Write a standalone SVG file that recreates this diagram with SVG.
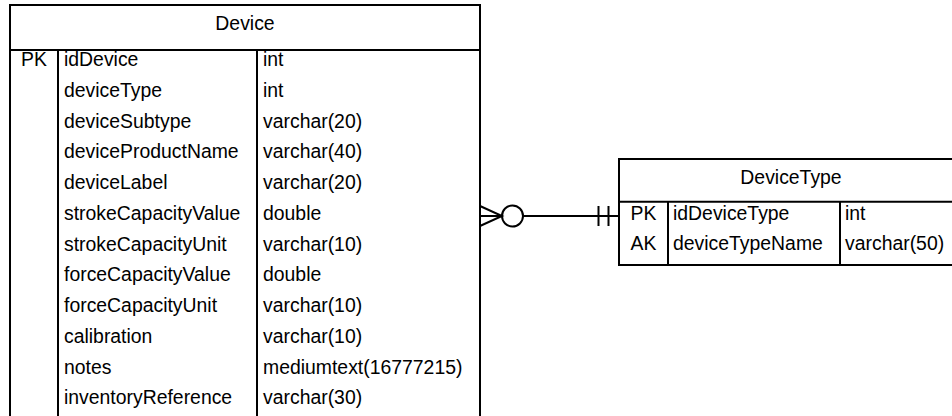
<svg xmlns="http://www.w3.org/2000/svg" width="952" height="416" viewBox="0 0 952 416">
<style>
  text { font-family: "Liberation Sans", Arial, sans-serif; font-size: 19.4px; fill: #000; }
  .c { text-anchor: middle; }
  .box { fill: #fff; stroke: #000; stroke-width: 2; }
  .ln { stroke: #000; stroke-width: 2; fill: none; }
</style>
<rect width="952" height="416" fill="#fff"/>
<g id="Device">
  <rect class="box" x="10" y="5" width="470" height="430"/>
  <line class="ln" x1="10" y1="50" x2="480" y2="50"/>
  <line class="ln" x1="58" y1="50" x2="58" y2="435"/>
  <line class="ln" x1="257" y1="50" x2="257" y2="435"/>
  <text class="c" x="245" y="30">Device</text>
  <text class="c" x="34" y="66">PK</text>
  <text x="64" y="66">idDevice</text><text x="263" y="66">int</text>
  <text x="64" y="96.7">deviceType</text><text x="263" y="96.7">int</text>
  <text x="64" y="127.5">deviceSubtype</text><text x="263" y="127.5">varchar(20)</text>
  <text x="64" y="158.2">deviceProductName</text><text x="263" y="158.2">varchar(40)</text>
  <text x="64" y="189">deviceLabel</text><text x="263" y="189">varchar(20)</text>
  <text x="64" y="219.7">strokeCapacityValue</text><text x="263" y="219.7">double</text>
  <text x="64" y="250.5">strokeCapacityUnit</text><text x="263" y="250.5">varchar(10)</text>
  <text x="64" y="281.2">forceCapacityValue</text><text x="263" y="281.2">double</text>
  <text x="64" y="312">forceCapacityUnit</text><text x="263" y="312">varchar(10)</text>
  <text x="64" y="342.7">calibration</text><text x="263" y="342.7">varchar(10)</text>
  <text x="64" y="373.5">notes</text><text x="263" y="373.5">mediumtext(16777215)</text>
  <text x="64" y="404.2">inventoryReference</text><text x="263" y="404.2">varchar(30)</text>
</g>
<g id="DeviceType">
  <rect class="box" x="619" y="159" width="345" height="106"/>
  <line class="ln" x1="619" y1="201.7" x2="964" y2="201.7"/>
  <line class="ln" x1="668" y1="201.7" x2="668" y2="265"/>
  <line class="ln" x1="840" y1="201.7" x2="840" y2="265"/>
  <text class="c" x="791" y="184">DeviceType</text>
  <text class="c" x="643.5" y="220">PK</text>
  <text x="673" y="220">idDeviceType</text><text x="845" y="220">int</text>
  <text class="c" x="643.5" y="250">AK</text>
  <text x="673" y="250">deviceTypeName</text><text x="845" y="250">varchar(50)</text>
</g>
<g id="connectors">
  <path class="ln" d="M480,206 L502,216 L480,226 M480,216 L502,216"/>
  <circle class="ln" cx="512.5" cy="216" r="10.5"/>
  <line class="ln" x1="523" y1="216" x2="619" y2="216"/>
  <line class="ln" x1="598.5" y1="206" x2="598.5" y2="226"/>
  <line class="ln" x1="608.5" y1="206" x2="608.5" y2="226"/>
</g>
</svg>
